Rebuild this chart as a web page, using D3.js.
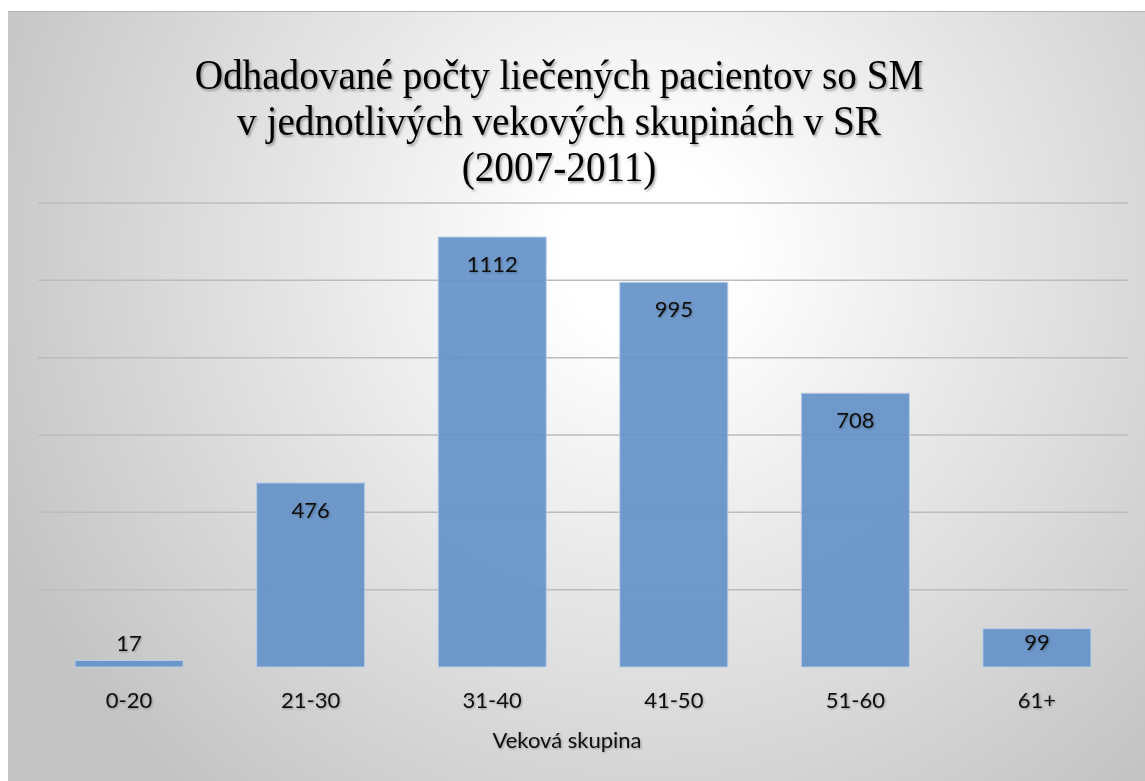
<!DOCTYPE html>
<html>
<head>
<meta charset="utf-8">
<script src="https://cdn.jsdelivr.net/npm/d3@7"></script>
<style>
  html, body { margin: 0; padding: 0; background: #fff; }
  svg { display: block; }
</style>
</head>
<body>
<div id="chart"></div>
<script>
// data
var ageGroups = ['0-20', '21-30', '31-40', '41-50', '51-60', '61+'];
var patients = [17, 476, 1112, 995, 708, 99];
var yTicks = [0, 200, 400, 600, 800, 1000, 1200];
var titleLines = [
    'Odhadované počty liečených pacientov so SM',
    'v jednotlivých vekových skupinách v SR',
    '(2007-2011)'
];
var xTitle = 'Veková skupina';

var W = 1145, H = 781;
var plot = { left: 38, right: 1128, top: 203, bottom: 667 };

var svg = d3.select('#chart').append('svg')
    .attr('width', W)
    .attr('height', H);

var defs = svg.append('defs');

var grad = defs.append('radialGradient')
    .attr('id', 'bg')
    .attr('gradientUnits', 'userSpaceOnUse')
    .attr('cx', 650).attr('cy', 250).attr('r', 720);
grad.append('stop').attr('offset', '0').attr('stop-color', '#ffffff');
grad.append('stop').attr('offset', '0.12').attr('stop-color', '#ffffff');
grad.append('stop').attr('offset', '1').attr('stop-color', '#c3c3c3');

// soft shadows like the office template
var sh = defs.append('filter').attr('id', 'shadow')
    .attr('x', '-10%').attr('y', '-20%').attr('width', '120%').attr('height', '150%');
sh.append('feDropShadow')
    .attr('dx', 1.5).attr('dy', 2).attr('stdDeviation', 1.3)
    .attr('flood-color', '#000').attr('flood-opacity', 0.35);

var sh2 = defs.append('filter').attr('id', 'shadowSmall')
    .attr('x', '-10%').attr('y', '-30%').attr('width', '120%').attr('height', '160%');
sh2.append('feDropShadow')
    .attr('dx', 1).attr('dy', 1).attr('stdDeviation', 0.8)
    .attr('flood-color', '#000').attr('flood-opacity', 0.3);

// chart area background
svg.append('rect')
    .attr('x', 8).attr('y', 11)
    .attr('width', W - 8).attr('height', H - 11)
    .attr('fill', 'url(#bg)');
svg.append('line')
    .attr('x1', 8).attr('x2', W)
    .attr('y1', 11.5).attr('y2', 11.5)
    .attr('stroke', '#b4b4b4');

// scales
var x = d3.scaleBand()
    .domain(ageGroups)
    .range([plot.left, plot.right])
    .paddingInner(0.405)
    .paddingOuter(0.204);

var y = d3.scaleLinear()
    .domain([0, 1200])
    .range([plot.bottom, plot.top]);

// gridlines
svg.append('g')
    .selectAll('line')
    .data(yTicks.filter(function (d) { return d > 0; }))
    .enter().append('line')
    .attr('x1', plot.left).attr('x2', plot.right)
    .attr('y1', function (d) { return y(d); })
    .attr('y2', function (d) { return y(d); })
    .attr('stroke', '#bcbcbc')
    .attr('stroke-width', 1.5);

// bars
var data = ageGroups.map(function (g, i) { return { group: g, value: patients[i] }; });

svg.append('g')
    .selectAll('rect')
    .data(data)
    .enter().append('rect')
    .attr('x', function (d) { return x(d.group); })
    .attr('y', function (d) { return y(d.value); })
    .attr('width', x.bandwidth())
    .attr('height', function (d) { return y(0) - y(d.value); })
    .attr('fill', '#6592c8')
    .attr('fill-opacity', 0.93)
    .attr('stroke', '#b9cde6')
    .attr('stroke-width', 1);

// baseline
svg.append('line')
    .attr('x1', plot.left).attr('x2', plot.right)
    .attr('y1', y(0) + 1.5).attr('y2', y(0) + 1.5)
    .attr('stroke', '#444')
    .attr('stroke-width', 4)
    .attr('filter', 'url(#shadowSmall)');

var labelFont = 'Lato, "Open Sans", sans-serif';

// value labels (inside end, or above when the bar is too short)
svg.append('g')
    .selectAll('text')
    .data(data)
    .enter().append('text')
    .attr('x', function (d) { return x(d.group) + x.bandwidth() / 2; })
    .attr('y', function (d) {
        var top = y(d.value), h = y(0) - top;
        if (h < 25) return top - 9;
        return Math.min(top + 35, y(0) - 17);
    })
    .attr('text-anchor', 'middle')
    .attr('font-family', labelFont)
    .attr('font-size', 22)
    .attr('fill', '#111')
    .attr('filter', 'url(#shadowSmall)')
    .text(function (d) { return d.value; });

// x axis
var xAxis = svg.append('g')
    .attr('transform', 'translate(0,' + y(0) + ')')
    .call(d3.axisBottom(x).tickSize(0).tickPadding(25));
xAxis.select('.domain').remove();
xAxis.selectAll('text')
    .attr('font-family', labelFont)
    .attr('font-size', 22)
    .attr('fill', '#111')
    .attr('filter', 'url(#shadowSmall)');

svg.append('text')
    .attr('x', 567).attr('y', 748)
    .attr('text-anchor', 'middle')
    .attr('font-family', labelFont)
    .attr('font-size', 22)
    .attr('fill', '#111')
    .attr('filter', 'url(#shadowSmall)')
    .text(xTitle);

// title
var titleG = svg.append('g').attr('filter', 'url(#shadow)');
var tl = titleG.selectAll('text')
    .data(titleLines)
    .enter().append('text')
    .attr('text-anchor', 'middle')
    .attr('font-family', '"Liberation Serif", "Times New Roman", serif')
    .attr('font-size', 42)
    .attr('fill', '#000')
    .text(function (d) { return d; });

// squeeze the title so the first line is as wide as in the template
var natural = tl.node().getComputedTextLength();
var sx = Math.min(1, 729 / natural);
tl.attr('transform', function (d, i) {
    return 'translate(559,' + (89 + i * 46) + ') scale(' + sx + ',1)';
});
</script>
</body>
</html>
